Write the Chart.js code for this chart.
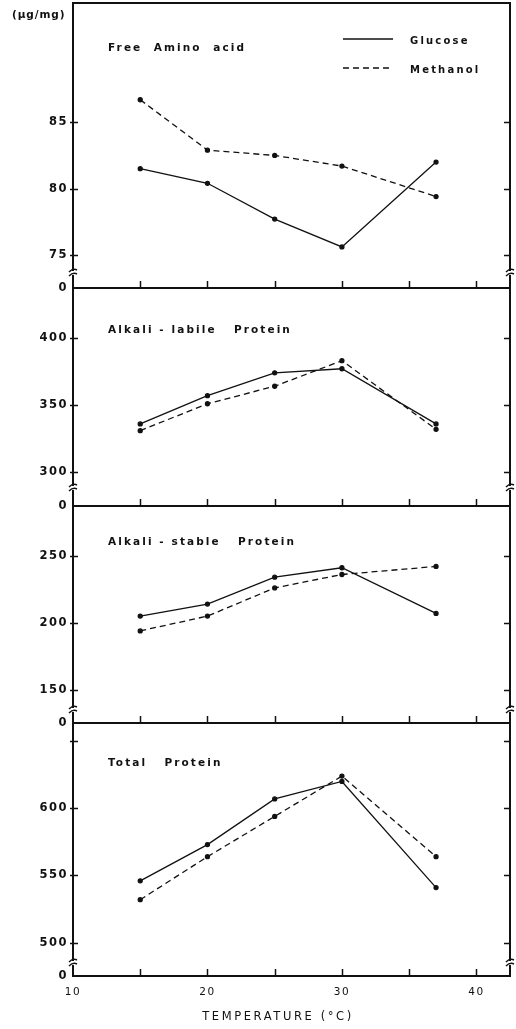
<!DOCTYPE html>
<html><head><meta charset="utf-8">
<script src="https://cdn.jsdelivr.net/npm/chart.js@4.4.0/dist/chart.umd.min.js"></script>
<style>
html,body{margin:0;padding:0;background:#fff;}
#wrap{position:relative;width:516px;height:1029px;overflow:hidden;background:#fff;}
canvas{position:absolute;left:0;}
</style></head><body><div id="wrap">
<canvas id="c0"></canvas><canvas id="c1"></canvas><canvas id="c2"></canvas><canvas id="c3"></canvas>
</div>
<script>
// ---- data ----
const temperatures = [15, 20, 25, 30, 37];
const seriesNames = ['Glucose', 'Methanol'];
const freeAminoGlucose  = [81.5, 80.4, 77.7, 75.6, 82.0];
const freeAminoMethanol = [86.7, 82.9, 82.5, 81.7, 79.4];
const labileGlucose  = [336, 357, 374, 377, 336];
const labileMethanol = [331, 351, 364, 383, 332];
const stableGlucose  = [205, 214, 234, 241, 207];
const stableMethanol = [194, 205, 226, 236, 242];
const totalGlucose  = [546, 573, 607, 620, 541];
const totalMethanol = [532, 564, 594, 624, 564];
const xTickValues = [10, 15, 20, 25, 30, 35, 40];
const panelTitles = ['Free  Amino  acid', 'Alkali - labile   Protein', 'Alkali - stable   Protein', 'Total   Protein'];
const yTickValues = [[75, 80, 85], [300, 350, 400], [150, 200, 250], [500, 550, 600, 650]];
const yLabelledTicks = [[75, 80, 85], [300, 350, 400], [150, 200, 250], [500, 550, 600]];
const brokenAxisLabel = '0';
const yUnit = '(\u00b5g/mg)';
const xTitle = 'TEMPERATURE (\u00b0C)';

// ---- layout ----
const panels = [
  {top: 3,   h: 285, yMin: 72.5,  yMax: 94,    g: freeAminoGlucose, m: freeAminoMethanol, brk: 15, titleY: 48},
  {top: 288, h: 218, yMin: 275,   yMax: 437,   g: labileGlucose,    m: labileMethanol,    brk: 18, titleY: 330.7},
  {top: 506, h: 217, yMin: 125.4, yMax: 287,   g: stableGlucose,    m: stableMethanol,    brk: 13, titleY: 542.3},
  {top: 723, h: 253, yMin: 475.2, yMax: 663.5, g: totalGlucose,     m: totalMethanol,     brk: 13, titleY: 763.3}
];
const FONT = '"DejaVu Sans", sans-serif';

function toXY(ys) { return temperatures.map((t, i) => ({x: t, y: ys[i]})); }

function spacedText(ctx, txt, x, y, font, spacing, align) {
  ctx.save();
  ctx.font = font;
  ctx.letterSpacing = spacing + 'px';
  ctx.textAlign = align || 'left';
  ctx.textBaseline = 'middle';
  ctx.fillStyle = '#111';
  ctx.fillText(txt, x, y);
  ctx.restore();
}

panels.forEach((p, i) => {
  const padTop = Math.min(10, p.top);
  const bottomH = i === 3 ? 1029 - (p.top + p.h) : 12;
  const cv = document.getElementById('c' + i);
  cv.width = 516; cv.height = padTop + p.h + bottomH;
  const offY = p.top - padTop;
  cv.style.top = offY + 'px';

  const deco = {
    id: 'deco' + i,
    beforeDraw(chart) { chart.ctx.letterSpacing = '1.5px'; },
    afterDraw(chart) {
      const ctx = chart.ctx, a = chart.chartArea;
      ctx.letterSpacing = '0px';
      const ys = chart.scales.y, xs = chart.scales.x;
      ctx.save();
      ctx.strokeStyle = '#111';
      // frame
      ctx.lineWidth = 2;
      ctx.strokeRect(a.left, a.top, a.right - a.left, a.bottom - a.top);
      // y ticks
      ctx.lineWidth = 1.5;
      yTickValues[i].forEach(v => {
        const py = Math.round(ys.getPixelForValue(v)) + 0.5;
        ctx.beginPath();
        ctx.moveTo(a.left - 3, py); ctx.lineTo(a.left + 5, py);
        ctx.moveTo(a.right - 6, py); ctx.lineTo(a.right, py);
        ctx.stroke();
      });
      // x ticks (inward, at bottom)
      xTickValues.forEach(v => {
        if (v === xs.min) return;
        const px = Math.round(xs.getPixelForValue(v)) + 0.5;
        ctx.beginPath();
        ctx.moveTo(px, a.bottom); ctx.lineTo(px, a.bottom - 7);
        ctx.stroke();
      });
      // axis breaks
      const by = a.bottom - p.brk;
      [a.left, a.right].forEach(ax => {
        ctx.fillStyle = '#fff';
        ctx.fillRect(ax - 2, by - 2, 4, 4);
        ctx.lineWidth = 1.4;
        ctx.beginPath();
        ctx.moveTo(ax - 4, by - 1); ctx.quadraticCurveTo(ax, by - 5, ax + 4, by - 3);
        ctx.moveTo(ax - 4, by + 3); ctx.quadraticCurveTo(ax, by - 1, ax + 4, by + 1);
        ctx.stroke();
      });
      ctx.restore();
      // panel title
      spacedText(ctx, panelTitles[i], 108, p.titleY - offY, 'bold 10.5px ' + FONT, 2.1);
      if (i === 0) {
        spacedText(ctx, yUnit, 12, 15, 'bold 10.5px ' + FONT, 0.9);
        chart.data.datasets.forEach((ds, k) => {
          const ly = k === 0 ? 39 : 68;
          ctx.save();
          ctx.strokeStyle = '#111';
          ctx.lineWidth = ds.borderWidth;
          ctx.setLineDash(ds.borderDash || []);
          ctx.beginPath(); ctx.moveTo(343, ly); ctx.lineTo(393, ly); ctx.stroke();
          ctx.restore();
          spacedText(ctx, ds.label, 410, ly + 2, 'bold 10px ' + FONT, 2.2);
        });
      }
      if (i === 3) {
        spacedText(ctx, xTitle, 278, 1017.5 - offY, '11.5px ' + FONT, 2.6, 'center');
      }
    }
  };

  new Chart(cv, {
    type: 'line',
    data: {
      datasets: [
        {label: seriesNames[0], data: toXY(p.g), borderColor: '#111', backgroundColor: '#111',
         borderWidth: 1.3, pointRadius: 2, pointHoverRadius: 2, tension: 0},
        {label: seriesNames[1], data: toXY(p.m), borderColor: '#111', backgroundColor: '#111',
         borderWidth: 1.3, borderDash: [6, 4], pointRadius: 2, pointHoverRadius: 2, tension: 0}
      ]
    },
    options: {
      responsive: false, animation: false, devicePixelRatio: 1,
      layout: {autoPadding: false, padding: {top: padTop, right: 6, left: 0, bottom: 0}},
      plugins: {legend: {display: false}, tooltip: {enabled: false}},
      scales: {
        x: {
          type: 'linear', min: 10, max: 42.5,
          afterBuildTicks: s => { s.ticks = xTickValues.map(v => ({value: v})); },
          afterFit: s => { s.height = bottomH; s.paddingLeft = 0; s.paddingRight = 0; },
          grid: {display: false, drawTicks: false},
          border: {display: false},
          ticks: {display: i === 3, autoSkip: false, maxRotation: 0, padding: 10,
                  color: '#111', font: {family: FONT, size: 10.5},
                  callback: v => (v % 10 === 0 ? String(v) : '')}
        },
        y: {
          type: 'linear', min: p.yMin, max: p.yMax,
          afterBuildTicks: s => { s.ticks = [{value: p.yMin}].concat(yTickValues[i].map(v => ({value: v}))); },
          afterFit: s => { s.width = 73; s.paddingTop = 0; s.paddingBottom = 0; },
          grid: {display: false, drawTicks: false},
          border: {display: false},
          ticks: {autoSkip: false, padding: 5, color: '#111', font: {family: FONT, size: 11.5, weight: 'bold'},
                  callback: v => (v === p.yMin ? brokenAxisLabel : (yLabelledTicks[i].includes(v) ? String(v) : ''))}
        }
      }
    },
    plugins: [deco]
  });
});
</script>
</body></html>
